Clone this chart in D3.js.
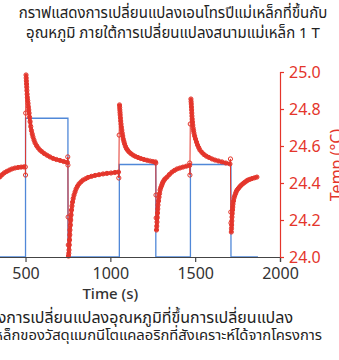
<!DOCTYPE html>
<html>
<head>
<meta charset="utf-8">
<script src="https://cdn.jsdelivr.net/npm/d3@7"></script>
<style>
    body { margin: 0; background: #fff; }
    text { font-family: "Noto Sans", "Noto Sans Thai", Loma, Garuda, sans-serif; }
</style>
</head>
<body>
<div id="chart"></div>
<script>
// Temperature relaxation runs [time (s), temperature (°C)]
const run0 = [[320,24.400],[330,24.418],[340,24.428],[350,24.434],[362,24.445],[375,24.455],[390,24.463],[405,24.470],[420,24.476],[438,24.481],[456,24.484],[474,24.486],[490,24.487]];
const run1 = [[503,24.984],[504,24.968],[505,24.952],[506,24.935],[507,24.918],[508,24.900],[509.5,24.880],[511,24.862],[513,24.845],[515,24.830],[517,24.812],[519,24.795],[521,24.778],[524,24.755],[527,24.732],[531,24.705],[535,24.683],[539.5,24.665],[544,24.649],[550,24.632],[556,24.617],[565,24.602],[574,24.590],[585,24.578],[597,24.569],[611,24.559],[627,24.550],[644,24.541],[662,24.533],[682,24.527],[703,24.522],[725,24.516],[747,24.511]];
const run2 = [[753,24.005],[755,24.020],[756.4,24.038],[758,24.065],[759.3,24.092],[761,24.120],[762,24.146],[764.5,24.172],[766.4,24.200],[768.7,24.227],[771,24.254],[774,24.276],[777,24.297],[781,24.316],[786,24.335],[792,24.352],[798,24.368],[806,24.382],[815,24.395],[827,24.406],[839,24.416],[854,24.423],[868,24.430],[889,24.436],[910,24.441],[933,24.445],[957,24.449],[980,24.452],[1004,24.454],[1027,24.457],[1048,24.459]];
const run3 = [[1054,24.822],[1055,24.808],[1056,24.795],[1057,24.781],[1058,24.768],[1059.5,24.752],[1061,24.735],[1063,24.719],[1065,24.703],[1067.5,24.686],[1070,24.670],[1073,24.654],[1076,24.638],[1080,24.624],[1084,24.611],[1089,24.598],[1095,24.586],[1102,24.577],[1110,24.568],[1121,24.559],[1133,24.551],[1147,24.544],[1163,24.538],[1180,24.532],[1198,24.527],[1216,24.523],[1234,24.519],[1250,24.516],[1266,24.514]];
const run4 = [[1272,24.146],[1273.5,24.167],[1275,24.189],[1276.5,24.213],[1278,24.238],[1279.5,24.260],[1281,24.281],[1284,24.303],[1287,24.324],[1290,24.343],[1293,24.362],[1297,24.375],[1302,24.386],[1306,24.396],[1310,24.405],[1316,24.414],[1322,24.422],[1334,24.432],[1348,24.446],[1363,24.459],[1378,24.468],[1393,24.476],[1410,24.481],[1428,24.486],[1448,24.491],[1467,24.495]];
const run5 = [[1475,24.854],[1476,24.840],[1477,24.827],[1478,24.811],[1479,24.795],[1480,24.778],[1481,24.762],[1482.5,24.746],[1484,24.730],[1486,24.713],[1488,24.697],[1490.5,24.683],[1493,24.670],[1497,24.654],[1502,24.638],[1508,24.621],[1514,24.605],[1521,24.591],[1528,24.578],[1540,24.565],[1552,24.554],[1566,24.545],[1581,24.538],[1599,24.530],[1617,24.524],[1637,24.519],[1658,24.514],[1681,24.508],[1705,24.503]];
const run6 = [[1713,24.135],[1714,24.154],[1715,24.173],[1716,24.195],[1717,24.216],[1718.5,24.235],[1720,24.254],[1721.5,24.270],[1723,24.286],[1726,24.303],[1729,24.319],[1733,24.331],[1738,24.343],[1742,24.353],[1747,24.362],[1754,24.370],[1761,24.378],[1768,24.385],[1776,24.392],[1785,24.399],[1794,24.405],[1803,24.411],[1811,24.416],[1823,24.420],[1835,24.424],[1850,24.428],[1864,24.432]];
// loose points recorded while the field was switching
const switch0 = [[499,24.487],[500,24.443],[501,24.778]];
const switch1 = [[749,24.541],[750,24.497],[751,24.216],[752,24.065]];
const switch2 = [[1050,24.427],[1052,24.659]];
const switch3 = [[1268,24.508],[1269,24.335],[1270,24.211]];
const switch4 = [[1468,24.508],[1469,24.443],[1471,24.719]];
const switch5 = [[1708,24.530],[1710,24.243],[1711,24.184]];

// applied field steps (hidden left axis)
const fieldTime = [300, 500, 500, 750, 750, 1053, 1053, 1268, 1268, 1472, 1472, 1711, 1711, 1870];
const fieldVal  = [0, 0, 0.75, 0.75, 0, 0, 0.5, 0.5, 0, 0, 0.5, 0.5, 0, 0];

const xTicks = [500, 1000, 1500, 2000];
const tempTicks = [24.0, 24.2, 24.4, 24.6, 24.8, 25.0];

const titleLines = ["กราฟแสดงการเปลี่ยนแปลงเอนโทรปีแม่เหล็กที่ขึ้นกับ", "อุณหภูมิ ภายใต้การเปลี่ยนแปลงสนามแม่เหล็ก 1 T"];
const captionLines = ["แสดงการเปลี่ยนแปลงอุณหภูมิที่ขึ้นการเปลี่ยนแปลง", "หล็กของวัสดุแมกนีโตแคลอริกที่สังเคราะห์ได้จากโครงการ"];

function drawChart() {
    const width = 339, height = 360;
    const red = "#e4352b", blue = "#5088d8", grey = "#444";

    let svg = d3.select("#chart").append("svg")
        .attr("width", width)
        .attr("height", height)
        .style("display", "block");

    // x range: the plot is cropped, so t=0 sits left of the frame
    let x = d3.scaleLinear().domain([0, 2000]).range([-59.3, 280]);
    let y = d3.scaleLinear().domain([24, 25]).range([257, 72]);
    let yField = d3.scaleLinear().domain([0, 1]).range([257, 72]);

    // field line
    let fieldPts = fieldTime.map((t, i) => [t, fieldVal[i]]);
    svg.append("path")
        .datum(fieldPts)
        .attr("fill", "none")
        .attr("stroke", blue)
        .attr("stroke-width", 1.3)
        .attr("d", d3.line().x(d => x(d[0])).y(d => yField(d[1])));

    let runs = [run0, run1, run2, run3, run4, run5, run6];
    let switches = [switch0, switch1, switch2, switch3, switch4, switch5];
    let allPts = [];
    runs.forEach((r, i) => {
        allPts = allPts.concat(r);
        if (switches[i]) allPts = allPts.concat(switches[i]);
    });

    let line = d3.line().x(d => x(d[0])).y(d => y(d[1]));

    // thin connecting line
    svg.append("path")
        .datum(allPts)
        .attr("fill", "none")
        .attr("stroke", red)
        .attr("stroke-width", 1)
        .attr("d", line);

    // dense markers along each run merge into a band
    svg.selectAll(".band")
        .data(runs)
        .enter().append("path")
        .attr("class", "band")
        .attr("fill", "none")
        .attr("stroke", red)
        .attr("stroke-width", 3.6)
        .attr("stroke-linecap", "round")
        .attr("stroke-linejoin", "round")
        .attr("d", line);

    svg.selectAll(".pt")
        .data(allPts)
        .enter().append("circle")
        .attr("class", "pt")
        .attr("cx", d => x(d[0]))
        .attr("cy", d => y(d[1]))
        .attr("r", 2.1)
        .attr("fill", "none")
        .attr("stroke", red)
        .attr("stroke-width", 1);

    // bottom axis
    let xAxis = svg.append("g")
        .attr("transform", "translate(0,257)")
        .call(d3.axisBottom(x).tickValues(xTicks).tickFormat(d3.format("d")).tickSize(5).tickPadding(6));
    xAxis.select(".domain").attr("stroke", grey).attr("stroke-width", 1.2);
    xAxis.selectAll(".tick line").attr("stroke", grey).attr("stroke-width", 1.2);
    xAxis.selectAll("text").attr("fill", "#333").attr("font-size", "16px");

    // right temperature axis
    let yAxis = svg.append("g")
        .attr("transform", "translate(280,0)")
        .call(d3.axisRight(y).tickValues(tempTicks).tickFormat(d3.format(".1f")).tickSize(4).tickPadding(5));
    yAxis.select(".domain").attr("stroke", red).attr("stroke-width", 1.2);
    yAxis.selectAll(".tick line").attr("stroke", red).attr("stroke-width", 1.2);
    yAxis.selectAll("text").attr("fill", red).attr("font-size", "16px");

    // axis titles
    svg.append("text")
        .attr("x", x(1000))
        .attr("y", 299)
        .attr("text-anchor", "middle")
        .attr("font-size", "15px")
        .attr("font-weight", 500)
        .attr("fill", "#333")
        .text("Time (s)");

    svg.append("text")
        .attr("transform", "translate(342,165) rotate(-90)")
        .attr("text-anchor", "middle")
        .attr("font-size", "16px")
        .attr("fill", red)
        .text("Temp (°C)");

    // chart title
    svg.selectAll(".title")
        .data(titleLines)
        .enter().append("text")
        .attr("class", "title")
        .attr("x", 173)
        .attr("y", (d, i) => 18 + i * 20)
        .attr("text-anchor", "middle")
        .attr("font-size", "15px")
        .attr("fill", "#222")
        .text(d => d);

    // caption below the chart (cut at the left edge)
    svg.selectAll(".caption")
        .data(captionLines)
        .enter().append("text")
        .attr("class", "caption")
        .attr("x", (d, i) => i === 0 ? 293 : 322)
        .attr("y", (d, i) => 323 + i * 17)
        .attr("text-anchor", "end")
        .attr("font-size", (d, i) => i === 0 ? "16px" : "14.8px")
        .attr("fill", "#222")
        .text(d => d);
}

drawChart();
</script>
</body>
</html>
